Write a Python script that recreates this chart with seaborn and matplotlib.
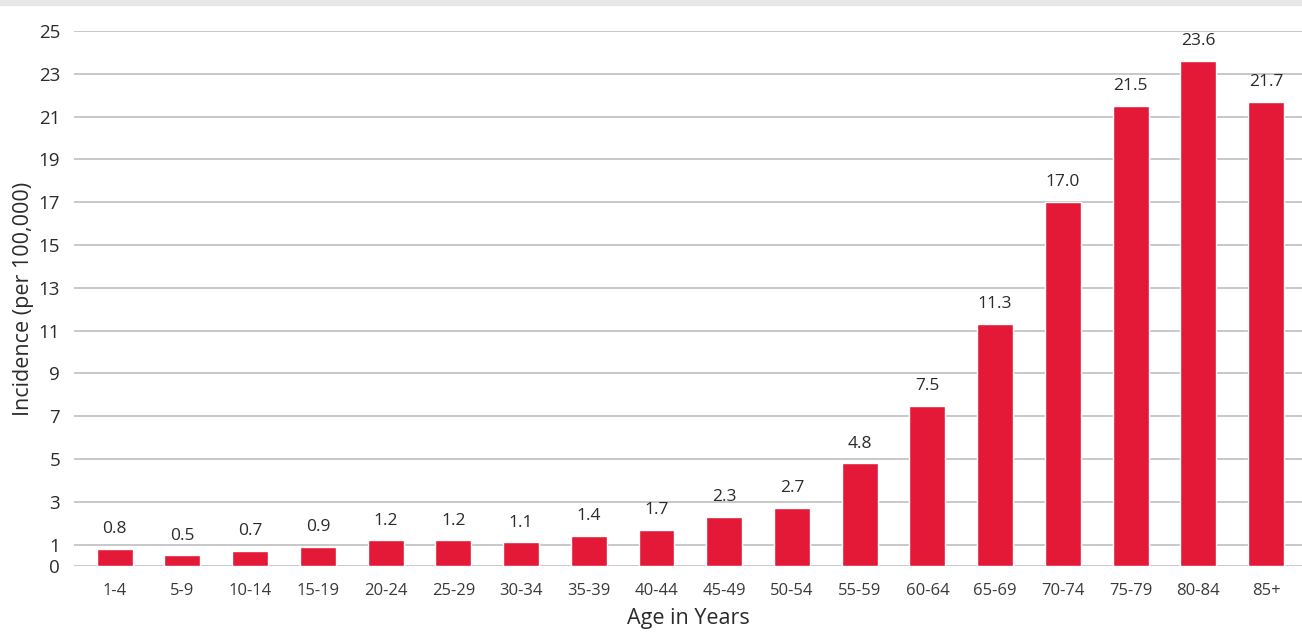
import matplotlib
matplotlib.use("Agg")
import matplotlib.pyplot as plt
import seaborn as sns
import pandas as pd

age_groups = ["1-4", "5-9", "10-14", "15-19", "20-24", "25-29", "30-34", "35-39",
              "40-44", "45-49", "50-54", "55-59", "60-64", "65-69", "70-74",
              "75-79", "80-84", "85+"]
incidence = [0.8, 0.5, 0.7, 0.9, 1.2, 1.2, 1.1, 1.4, 1.7, 2.3, 2.7, 4.8,
             7.5, 11.3, 17.0, 21.5, 23.6, 21.7]
y_ticks = [0, 1, 3, 5, 7, 9, 11, 13, 15, 17, 19, 21, 23, 25]

BAR_RED = "#E31937"
TEXT = "#2b2b2b"
GRID = "#c8c8c8"

sns.set_theme(style="white")
plt.rcParams["font.family"] = ["Open Sans", "DejaVu Sans"]

df = pd.DataFrame({"age": age_groups, "incidence": incidence})

fig = plt.figure(figsize=(13.02, 6.32), dpi=100)
# thin grey band across the top edge
fig.patches.append(plt.Rectangle((0, 1 - 5 / 632), 1, 5 / 632,
                                 transform=fig.transFigure, color="#e6e7e8", zorder=0))
ax = fig.add_axes([74 / 1302, 1 - 566 / 632, 1 - 74 / 1302, (566 - 31) / 632])

sns.barplot(data=df, x="age", y="incidence", color=BAR_RED, width=0.53,
            saturation=1, ax=ax, zorder=3)

for i, v in enumerate(incidence):
    ax.text(i, v + 0.55, f"{v:.1f}", ha="center", va="bottom",
            fontsize=12.5, color=TEXT, clip_on=False)

ax.set_ylim(0, 25)
ax.set_xlim(-0.6, len(age_groups) - 0.47)
ax.set_yticks(y_ticks)
ax.set_yticklabels([str(t) for t in y_ticks])
ax.yaxis.grid(True, color=GRID, linewidth=1.4, zorder=0)
ax.set_axisbelow(True)
for s in ax.spines.values():
    s.set_visible(False)

ax.tick_params(axis="y", length=0, pad=10, labelsize=13.5, labelcolor=TEXT)
ax.tick_params(axis="x", length=0, pad=12, labelsize=12, labelcolor="#3a3a3a")

ax.set_xlabel("Age in Years", fontsize=15.5, color=TEXT, labelpad=7)
ax.set_ylabel("Incidence (per 100,000)", fontsize=15.5, color=TEXT, labelpad=3)

fig.savefig("out.png", dpi=100, facecolor="white")
